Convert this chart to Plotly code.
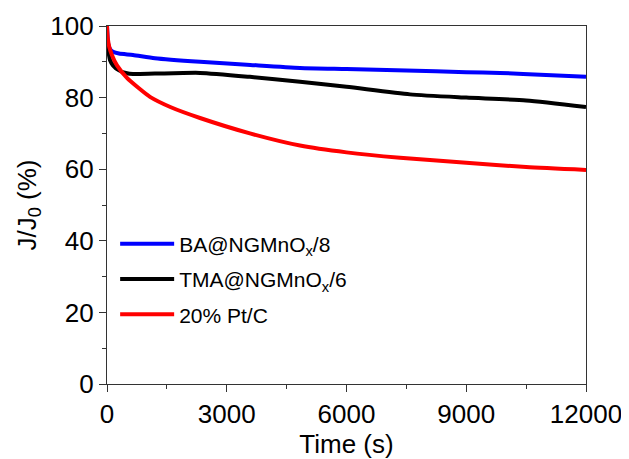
import plotly.graph_objects as go

# Time (s)
t_blue = [0, 30, 80, 150, 300, 650, 1200, 2330, 3500, 4835, 6000, 7500, 9000, 9845, 11000, 12000]
y_blue = [100, 95.0, 93.5, 92.8, 92.3, 91.9, 91.0, 90.0, 89.2, 88.3, 88.0, 87.6, 87.1, 86.9, 86.3, 85.8]

t_black = [0, 40, 75, 150, 300, 500, 650, 1200, 2330, 3580, 4835, 6000, 7590, 9000, 10500, 12000]
y_black = [95, 92.5, 90.5, 89.0, 87.6, 86.8, 86.6, 86.7, 86.9, 85.8, 84.4, 83.0, 80.9, 80.0, 79.2, 77.4]

t_red = [0, 20, 60, 120, 250, 500, 800, 1077, 1600, 2330, 3580, 4835, 6000, 7340, 9000, 10500, 12000]
y_red = [100, 96.5, 94.0, 92.0, 89.0, 85.5, 82.6, 80.2, 77.3, 74.3, 70.0, 66.6, 64.7, 63.2, 61.8, 60.6, 59.8]

x_ticks = [0, 3000, 6000, 9000, 12000]
x_ticklabels = ["0", "3000", "6000", "9000", "12000"]
y_ticks = [0, 20, 40, 60, 80, 100]

names = ["BA@NGMnO<sub>x</sub>/8", "TMA@NGMnO<sub>x</sub>/6", "20% Pt/C"]
colors = ["#0000ff", "#000000", "#ff0000"]

fig = go.Figure()
for i, (t, y, n, c) in enumerate(zip([t_blue, t_black, t_red], [y_blue, y_black, y_red], names, colors)):
    fig.add_trace(go.Scatter(x=t, y=y, mode="lines", name=n, legendgroup=f"g{i}",
                             line=dict(color=c, width=4, shape="spline", smoothing=0.6)))

font = "Liberation Sans, Arial, sans-serif"
fig.update_layout(
    width=629, height=459,
    margin=dict(l=99, r=51, t=18, b=83, autoexpand=False),
    paper_bgcolor="white", plot_bgcolor="white",
    font=dict(family=font, color="black"),
    showlegend=True,
    legend=dict(x=0.017, y=0.448, xanchor="left", yanchor="top", bgcolor="rgba(0,0,0,0)",
                font=dict(size=21, family=font), tracegroupgap=5, itemwidth=54),
    xaxis=dict(range=[0, 12000], tickvals=x_ticks, ticktext=x_ticklabels, ticks="outside", ticklen=7, tickwidth=1.2,
               tickcolor="#333", showline=True, linecolor="#333", linewidth=1.2, mirror=True, showgrid=False,
               zeroline=False, automargin=False,
               tickfont=dict(size=26), title=dict(text="Time (s)", font=dict(size=26), standoff=0),
               minor=dict(ticks="outside", ticklen=4, tickcolor="#333", dtick=1500, showgrid=False)),
    yaxis=dict(range=[0, 100], tickvals=y_ticks, ticks="outside", ticklen=7, tickwidth=1.2,
               tickcolor="#333", showline=True, linecolor="#333", linewidth=1.2, mirror=True, showgrid=False,
               zeroline=False, automargin=False,
               tickfont=dict(size=26), title=dict(text="J/J<sub>0</sub> (%)", font=dict(size=26), standoff=6),
               minor=dict(ticks="outside", ticklen=4, tickcolor="#333", dtick=10, showgrid=False)),
)
fig.write_html("out.html")
